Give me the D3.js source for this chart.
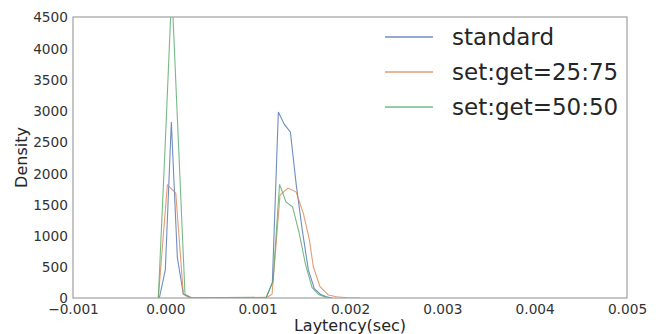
<!DOCTYPE html>
<html>
<head>
<meta charset="utf-8">
<script src="https://cdn.jsdelivr.net/npm/d3@7"></script>
<style>
  body { margin: 0; background: #fff; }
  svg { display: block; font-family: 'DejaVu Sans', sans-serif; }
</style>
</head>
<body>
<div id="chart"></div>
<script>
// density curves (x in seconds, y = density)
const standardX = [-0.000065, 0.0, 0.000065, 0.00013, 0.000195, 0.00026, 0.000325,
  0.001029, 0.001094, 0.001159, 0.001224, 0.001289, 0.001354, 0.001419, 0.001484,
  0.001549, 0.001614, 0.001679, 0.001744, 0.001809];
const standardY = [0, 450, 2820, 650, 60, 10, 0,
  0, 10, 250, 2980, 2780, 2660, 1800, 1080, 450, 150, 60, 20, 0];

const mix2575X = [-0.000076, 0.000022, 0.000113, 0.000195, 0.000278,
  0.001101, 0.001156, 0.001242, 0.001329, 0.001416, 0.001495, 0.00156, 0.001603,
  0.001675, 0.001765, 0.001856, 0.001968, 0.002109];
const mix2575Y = [0, 1810, 1680, 60, 0,
  10, 60, 1650, 1760, 1700, 1356, 930, 500, 181, 48, 21, 5, 0];

const mix5050X = [-0.000076, -0.000003, 0.00007, 0.000143, 0.000213, 0.000284,
  0.001091, 0.001166, 0.001237, 0.001307, 0.001378, 0.001448, 0.001518, 0.001589,
  0.001659, 0.00173, 0.0018];
const mix5050Y = [0, 2400, 4950, 2450, 60, 5,
  10, 260, 1820, 1540, 1460, 1050, 540, 170, 55, 15, 0];

const seriesNames = ['standard', 'set:get=25:75', 'set:get=50:50'];
const seriesColors = ['#4c72b0', '#dd8452', '#55a868'];
const xTicks = [-0.001, 0, 0.001, 0.002, 0.003, 0.004, 0.005];
const yTicks = [0, 500, 1000, 1500, 2000, 2500, 3000, 3500, 4000, 4500];

const W = 663, H = 334;
const margin = { top: 17, right: 36, bottom: 36, left: 73 };

const series = [
  { name: seriesNames[0], color: seriesColors[0], pts: d3.zip(standardX, standardY) },
  { name: seriesNames[1], color: seriesColors[1], pts: d3.zip(mix2575X, mix2575Y) },
  { name: seriesNames[2], color: seriesColors[2], pts: d3.zip(mix5050X, mix5050Y) }
];

const svg = d3.select('#chart').append('svg')
  .attr('width', W)
  .attr('height', H);

svg.append('rect').attr('width', W).attr('height', H).attr('fill', '#fff');

const x = d3.scaleLinear().domain([-0.001, 0.005]).range([margin.left, W - margin.right]);
const y = d3.scaleLinear().domain([0, 4500]).range([H - margin.bottom, margin.top]);

svg.append('defs').append('clipPath').attr('id', 'plotClip')
  .append('rect')
  .attr('x', x.range()[0])
  .attr('y', y.range()[1])
  .attr('width', x.range()[1] - x.range()[0])
  .attr('height', y.range()[0] - y.range()[1]);

const line = d3.line().x(d => x(d[0])).y(d => y(d[1]));

// curves
svg.append('g')
  .attr('clip-path', 'url(#plotClip)')
  .selectAll('path')
  .data(series)
  .join('path')
  .attr('fill', 'none')
  .attr('stroke', d => d.color)
  .attr('stroke-opacity', 0.8)
  .attr('stroke-width', 1.1)
  .attr('d', d => line(d.pts));

// legend (white patch, no visible frame)
const legend = svg.append('g');
legend.append('rect')
  .attr('x', 362).attr('y', margin.top + 1)
  .attr('width', 262).attr('height', 104)
  .attr('fill', '#fff');

const legendItem = legend.selectAll('g.item')
  .data(series)
  .join('g')
  .attr('class', 'item')
  .attr('transform', (d, i) => `translate(385,${37 + i * 35})`);

legendItem.append('line')
  .attr('x1', 0).attr('x2', 48)
  .attr('stroke', d => d.color)
  .attr('stroke-opacity', 0.8)
  .attr('stroke-width', 1.3);

legendItem.append('text')
  .attr('x', 67)
  .attr('dy', '0.35em')
  .attr('font-size', 23)
  .attr('fill', '#262626')
  .text(d => d.name);

// axes: labels only, no tick marks
const xAxis = d3.axisBottom(x).tickValues(xTicks).tickFormat(d3.format('.3f')).tickSize(0).tickPadding(0);
const yAxis = d3.axisLeft(y).tickValues(yTicks).tickFormat(d3.format('d')).tickSize(0).tickPadding(0);

const gx = svg.append('g').attr('transform', `translate(0,${y.range()[0]})`).call(xAxis);
gx.select('.domain').remove();
gx.selectAll('text')
  .attr('y', 16)
  .attr('dy', '0')
  .attr('font-size', 13.7)
  .attr('font-family', 'DejaVu Sans')
  .attr('fill', '#333');

const gy = svg.append('g').attr('transform', `translate(${x.range()[0] - 5},0)`).call(yAxis);
gy.select('.domain').remove();
gy.selectAll('text')
  .attr('x', 0)
  .attr('dy', '0.36em')
  .attr('font-size', 13.7)
  .attr('font-family', 'DejaVu Sans')
  .attr('fill', '#333');

// frame on top of the curves, like matplotlib spines
svg.append('rect')
  .attr('x', x.range()[0])
  .attr('y', y.range()[1])
  .attr('width', x.range()[1] - x.range()[0])
  .attr('height', y.range()[0] - y.range()[1])
  .attr('fill', 'none')
  .attr('stroke', '#a0a0a0')
  .attr('stroke-width', 1.2);

// axis titles
svg.append('text')
  .attr('x', (x.range()[0] + x.range()[1]) / 2)
  .attr('y', 331)
  .attr('text-anchor', 'middle')
  .attr('font-size', 16)
  .attr('fill', '#262626')
  .text('Laytency(sec)');

svg.append('text')
  .attr('transform', `translate(27,${(y.range()[0] + y.range()[1]) / 2}) rotate(-90)`)
  .attr('text-anchor', 'middle')
  .attr('font-size', 16)
  .attr('fill', '#262626')
  .text('Density');
</script>
</body>
</html>
